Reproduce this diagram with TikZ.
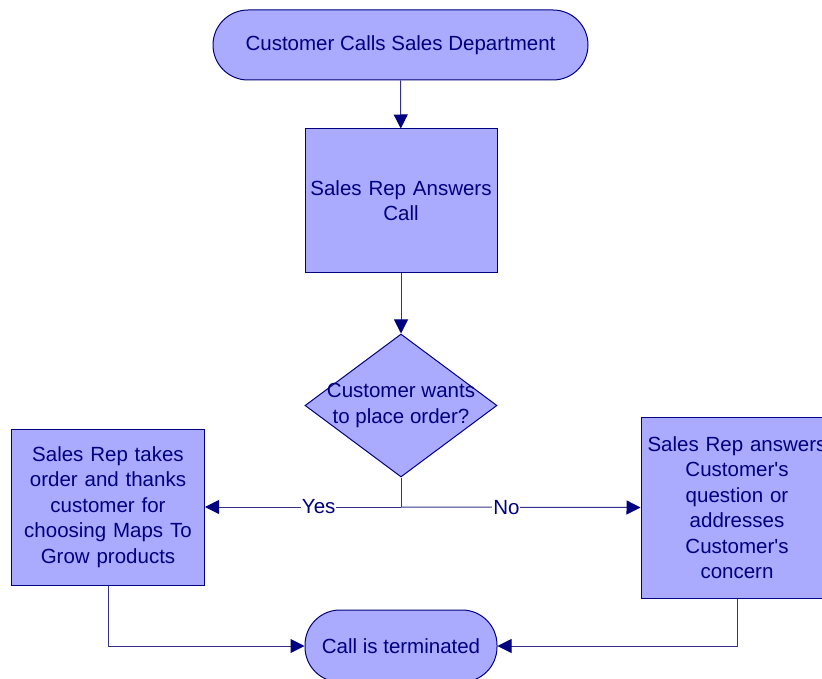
\documentclass[tikz,border=0pt]{standalone}
\usepackage{fontspec}
\setmainfont{Liberation Sans}
\usepackage{xcolor}
\usepackage{tikz}
\usetikzlibrary{positioning,arrows.meta,calc,shapes.geometric}
\definecolor{boxfill}{RGB}{170,170,255}
\definecolor{boxline}{RGB}{0,0,128}
\definecolor{flowline}{RGB}{50,50,140}
\tikzset{
  chart/.style={draw=boxline, fill=boxfill, line width=1pt, inner sep=2pt,
                font=\fontsize{20.5}{25.5}\selectfont, text=boxline, align=center},
  terminal/.style={chart, rectangle, rounded corners=35pt},
  process/.style={chart, rectangle, text width=180pt},
  decision/.style={chart, diamond, inner sep=0pt},
  decisiontxt/.style={font=\fontsize{20.5}{25.5}\selectfont, text=boxline, align=center},
  flow/.style={-{Triangle[length=14pt, width=14pt, color=boxline]}, line width=1pt, flowline},
  joint/.style={line width=1pt, flowline},
  lbl/.style={fill=white, inner sep=1pt, font=\fontsize{20.5}{25.5}\selectfont, text=boxline}
}

\begin{document}
\begin{tikzpicture}[x=1pt, y=-1pt]
\useasboundingbox (0,0) rectangle (822,679);
\node[terminal, minimum width=375pt, minimum height=70pt] (call) at (400.5,45) {Customer Calls Sales Department};
\node[process, minimum height=143pt, text width=188pt] (answer) at (401,200.5) {Sales Rep Answers\\Call};
\node[decision, minimum width=192pt, minimum height=143pt] (order) at (401,405.5) {};
\node[decisiontxt] (ordertxt) at (order.center) {Customer wants\\to place order?};
\node[process, minimum height=156pt, text width=189pt] (take) at (108,507) {Sales Rep takes\\order and thanks\\customer for\\choosing Maps To\\Grow products};
\node[process, minimum height=181pt, text width=188pt] (reply) at (737,507.5) {Sales Rep answers\\Customer\textquotesingle s\\question or\\addresses\\Customer\textquotesingle s\\concern};
\node[terminal, minimum width=192pt, minimum height=72pt] (done) at (401,646) {Call is terminated};
\coordinate (split) at (order.south |- take.east);
\draw[flow] (call) -- (answer);
\draw[flow] (answer) -- (order);
\draw[joint] (order.south) -- (split);
\draw[flow] (split) -- node[lbl, pos=0.42] {Yes} (take.east);
\draw[flow] (split) -- node[lbl, pos=0.44] {No} (reply.west);
\draw[flow] (take.south) |- (done.west);
\draw[flow] (reply.south) |- (done.east);
\end{tikzpicture}
\end{document}
